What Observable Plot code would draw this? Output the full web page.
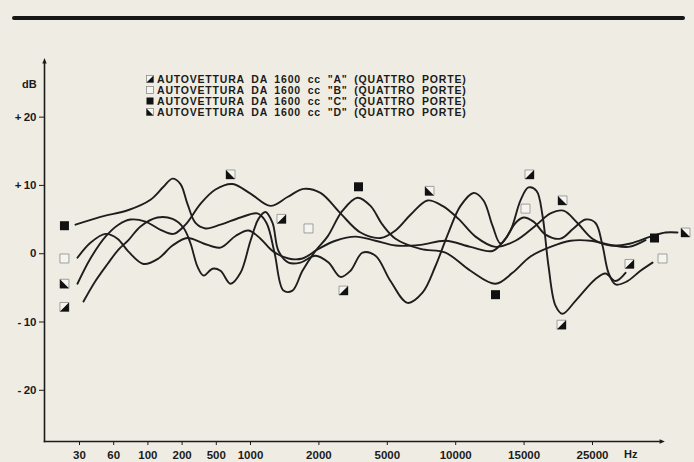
<!DOCTYPE html>
<html><head><meta charset="utf-8">
<script src="https://cdn.jsdelivr.net/npm/d3@7"></script>
<script src="https://cdn.jsdelivr.net/npm/@observablehq/plot@0.6"></script>
<style>
html,body{margin:0;padding:0;background:#efede3;}
#wrap{position:relative;width:694px;height:462px;overflow:hidden;font-family:"Liberation Sans",Arial,sans-serif;color:#1b1b1b;}
#rule{position:absolute;left:12px;top:16px;width:673px;height:4px;background:#161616;border-radius:2px;}
#chart{position:absolute;left:0;top:0;}
#legend{position:absolute;left:146px;top:74px;font-weight:bold;font-size:10.5px;letter-spacing:0.8px;word-spacing:3px;}
.row{display:flex;align-items:center;height:10.8px;white-space:pre;}
.row svg{margin-right:3px;flex:none;}
.lab{position:absolute;font-weight:bold;font-size:11px;}
</style></head><body>
<div id="wrap"><div id="rule"></div><div id="chart"></div><div id="legend"></div>
<div class="lab" style="left:22px;top:78px;">dB</div>
<div class="lab" style="left:624px;top:448px;">Hz</div>
</div>
<script>
// ---- data ----
const xTickValues = [30, 60, 100, 200, 500, 1000, 2000, 5000, 10000, 15000, 25000];
const yTickValues = [-20, -10, 0, 10, 20];
const seriesKeys = ["A", "B", "C", "D"];
const seriesNames = [
  'AUTOVETTURA DA 1600 cc "A" (QUATTRO PORTE)',
  'AUTOVETTURA DA 1600 cc "B" (QUATTRO PORTE)',
  'AUTOVETTURA DA 1600 cc "C" (QUATTRO PORTE)',
  'AUTOVETTURA DA 1600 cc "D" (QUATTRO PORTE)'
];
// curves: [Hz, dB]
const curveA = [[33.5,-7.0],[44,-4.0],[54.6,-1.5],[65.6,0.6],[77.3,2.0],[91.4,4.0],[128,5.3],[172,5.1],[212,3.8],[274,1.5],
  [335,-1.9],[388,-3.2],[467,-2.2],[561,-2.5],[708,-4.4],[854,-2.8],[1000,1.9],[1117,5.1],[1219,6.1],[1322,4.5],
  [1409,0.4],[1556,-1.3],[1731,-1.3],[1950,-0.3],[2421,-1.3],[2947,-3.4],[3386,-2.5],[3912,0.15],[4483,-0.3],[5234,-4.0],
  [6477,-7.2],[7573,-5.7],[8523,-1.8],[9474,3.1],[10351,7.0],[11301,8.9],[12032,7.8],[12690,4.1],[13275,1.5],[14006,3.4],
  [14737,7.8],[15643,9.7],[16813,9.2],[17690,5.6],[18567,-1.8],[19591,-7.6],[20614,-8.8],[22515,-6.9],[25439,-3.7],[26901,-2.9],
  [28363,-4.0],[29825,-2.8]];
const curveB = [[28.2,-0.6],[39.6,1.6],[52.8,2.9],[64.4,2.2],[77.3,0.3],[94.9,-1.5],[131,-0.7],[172,1.2],[247,2.3],[388,1.5],
  [561,0.9],[781,2.6],[971,3.4],[1146,2.2],[1322,0.4],[1556,-0.7],[1760,-0.7],[1994,0.7],[2728,1.9],[3605,2.5],
  [4483,1.9],[5599,1.2],[7427,1.3],[9254,1.9],[11082,1.0],[12690,0.4],[13640,2.2],[14371,4.5],[14956,5.3],[16374,4.7],
  [18129,2.8],[20322,2.2],[22222,3.7],[23977,5.0],[25439,4.5],[26462,1.2],[27339,-2.8],[28363,-4.5],[29971,-4.1],[32018,-2.5],
  [33772,-1.3]];
const curveC = [[26.5,4.25],[48.4,5.4],[77.3,6.4],[107.6,7.9],[145.6,9.8],[171.9,11.0],[195.3,10.2],[247,7.3],[317.5,4.5],[405,3.7],
  [561,4.25],[854,5.3],[1102,5.9],[1234,4.5],[1351,0.15],[1482,-5.4],[1614,-5.4],[1760,-2.5],[1950,0.4],[2377,2.5],
  [3035,6.3],[3693,8.2],[4263,7.0],[4789,4.25],[5599,2.2],[7427,0.7],[9254,0.15],[11082,-2.5],[12909,-4.4],[14152,-2.8],
  [15936,-0.4],[18860,1.0],[21784,1.9],[24708,1.9],[27632,1.3],[30263,1.0],[32749,2.0]];
const curveD = [[28.2,-4.4],[39.6,-0.7],[52.8,2.5],[65.6,4.25],[79.7,5.0],[97.2,4.7],[136.8,3.5],[174.9,2.9],[229.8,4.25],[361,7.3],
  [493,9.4],[737,10.2],[1000,8.8],[1292,7.0],[1541,8.3],[1775,9.5],[2070,8.9],[2947,5.9],[3825,3.1],[4702,2.3],
  [5599,3.4],[6696,5.7],[7939,7.8],[9035,7.0],[10205,5.1],[11447,2.5],[12909,1.0],[14371,1.9],[16667,4.1],[18860,5.9],
  [20760,6.3],[22807,4.5],[25000,2.2],[27632,1.2],[30556,1.5],[33480,2.5],[35673,3.1],[37427,3.1]];
// marker points: [Hz, dB]
const markA = [[16.8,-7.8],[1453,5.1],[3079,-5.4],[15789,11.6],[20468,-10.4],[30409,-1.5]];
const markB = [[16.8,-0.7],[1848,3.7],[15205,6.6],[35234,-0.7]];
const markC = [[16.8,4.1],[3737,9.8],[12909,-6.0],[34064,2.3]];
const markD = [[16.8,-4.4],[708,11.6],[8085,9.2],[20614,7.8],[38597,3.1]];

// ---- symbols ----
const half = s => Math.sqrt(s / Math.PI);
const sq = {draw(c, s){const h = half(s); c.moveTo(-h,-h); c.lineTo(h,-h); c.lineTo(h,h); c.lineTo(-h,h); c.closePath();}};
const triLR = {draw(c, s){const h = half(s); c.moveTo(h,-h); c.lineTo(h,h); c.lineTo(-h,h); c.closePath();}};
const triLL = {draw(c, s){const h = half(s); c.moveTo(-h,-h); c.lineTo(-h,h); c.lineTo(h,h); c.closePath();}};
const arrowUp = {draw(c, s){const h = half(s); c.moveTo(0,-2*h); c.lineTo(h,h*0.4); c.lineTo(-h,h*0.4); c.closePath();}};
const arrowRight = {draw(c, s){const h = half(s); c.moveTo(2*h,0); c.lineTo(-h*0.4,h); c.lineTo(-h*0.4,-h); c.closePath();}};

const toRows = (arr, key) => arr.map(([hz, db]) => ({key, hz, db}));
const lines = [...toRows(curveA,"A"), ...toRows(curveB,"B"), ...toRows(curveC,"C"), ...toRows(curveD,"D")];
const mA = toRows(markA,"A"), mB = toRows(markB,"B"), mC = toRows(markC,"C"), mD = toRows(markD,"D");

const ink = "#1b1b1b";
const fmtY = d => d > 0 ? "+\u2009" + d : d < 0 ? "-\u2009" + (-d) : "0";
const R = 4.5;

const chart = Plot.plot({
  width: 694, height: 462,
  marginLeft: 44, marginRight: 34, marginTop: 62, marginBottom: 21,
  style: {background: "transparent", fontFamily: "'Liberation Sans', Arial, sans-serif", fontSize: "11.5px", fontWeight: "bold", color: ink},
  x: {type: "linear", domain: xTickValues,
      range: [79, 113.2, 147.4, 181.6, 215.8, 250, 318.4, 386.8, 455.2, 523.6, 592],
      ticks: xTickValues, tickFormat: d => String(d), tickSize: 4, tickPadding: 5, label: null},
  y: {domain: [-27.5, 28], ticks: yTickValues, tickFormat: fmtY, tickSize: 5, tickPadding: 3, label: null},
  marks: [
    Plot.frame({anchor: "left", stroke: ink, strokeWidth: 1.6}),
    Plot.frame({anchor: "bottom", stroke: ink, strokeWidth: 1.6}),
    Plot.dot([0], {frameAnchor: "top-left", symbol: arrowUp, r: 2.2, fill: ink}),
    Plot.dot([0], {frameAnchor: "bottom-right", symbol: arrowRight, r: 2.2, fill: ink}),
    Plot.line(lines, {x: "hz", y: "db", z: "key", curve: "catmull-rom", stroke: "#1e1e1e", strokeWidth: 1.9}),
    Plot.dot([...mA, ...mB, ...mD], {x: "hz", y: "db", symbol: sq, r: R, fill: "#f5f5f0", stroke: "#8a8a8a", strokeWidth: 0.8}),
    Plot.dot(mC, {x: "hz", y: "db", symbol: sq, r: R, fill: "#111"}),
    Plot.dot(mA, {x: "hz", y: "db", symbol: triLR, r: R, fill: "#111"}),
    Plot.dot(mD, {x: "hz", y: "db", symbol: triLL, r: R, fill: "#111"})
  ]
});
document.getElementById("chart").appendChild(chart);

// legend
const icon = {
  A: '<rect x="0.5" y="0.5" width="7" height="7" fill="#f5f5f0" stroke="#8a8a8a" stroke-width="0.8"/><path d="M7.5,0.5L7.5,7.5L0.5,7.5Z" fill="#111"/>',
  B: '<rect x="0.5" y="0.5" width="7" height="7" fill="#f5f5f0" stroke="#8a8a8a" stroke-width="0.8"/>',
  C: '<rect x="0.5" y="0.5" width="7" height="7" fill="#111"/>',
  D: '<rect x="0.5" y="0.5" width="7" height="7" fill="#f5f5f0" stroke="#8a8a8a" stroke-width="0.8"/><path d="M0.5,0.5L0.5,7.5L7.5,7.5Z" fill="#111"/>'
};
const leg = document.getElementById("legend");
seriesKeys.forEach((k, i) => {
  const row = document.createElement("div");
  row.className = "row";
  row.innerHTML = '<svg width="8" height="8">' + icon[k] + '</svg>';
  const t = document.createElement("span");
  t.textContent = seriesNames[i];
  row.appendChild(t);
  leg.appendChild(row);
});
</script>
</body></html>
